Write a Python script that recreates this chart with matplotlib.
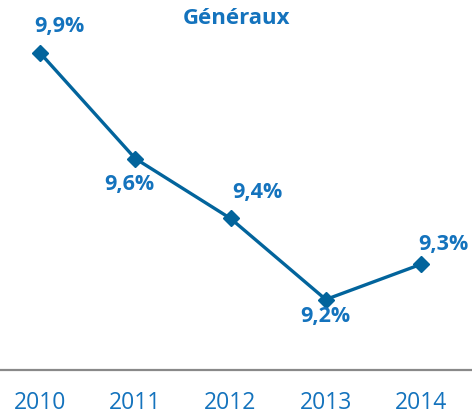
import matplotlib
matplotlib.use("Agg")
import matplotlib.pyplot as plt

years = ["2010", "2011", "2012", "2013", "2014"]
rates = [9.9, 9.6, 9.43, 9.2, 9.3]
# label offsets (points) for each data label
label_dx = [14, -4, 19, 0, 16]
label_dy = [19, -19, 19, -12, 14]

line_col = "#02649c"
text_col = "#1473bd"

plt.rcParams["font.family"] = ["Open Sans", "DejaVu Sans"]

fig = plt.figure(figsize=(4.72, 4.12), dpi=100, facecolor="w")
ax = fig.add_axes([0, 0.102, 1, 0.898])

x = list(range(len(years)))
ax.plot(x, rates, color=line_col, lw=2.4, marker="D", ms=8.5,
        mec=line_col, mfc=line_col, clip_on=False)

for xi, v, dx, dy in zip(x, rates, label_dx, label_dy):
    ax.annotate(("%.1f%%" % v).replace(".", ","), (xi, v),
                xytext=(dx, dy), textcoords="offset points",
                ha="center", va="center", fontsize=15.5,
                fontweight="bold", color=text_col)

ax.set_xlim(-0.42, 4.535)
ax.set_ylim(9.0, 10.05)
ax.set_xticks(x)
ax.set_xticklabels(years, fontsize=16.5, color=text_col)
ax.tick_params(axis="x", length=0, pad=15)
ax.set_yticks([])
for side in ["left", "right", "top"]:
    ax.spines[side].set_visible(False)
ax.spines["bottom"].set_color("#898989")
ax.spines["bottom"].set_linewidth(1.6)

fig.text(0.502, 0.956, "Généraux", ha="center", va="center",
         fontsize=16, fontweight="bold", color=text_col)

fig.savefig("out.png", dpi=100)
